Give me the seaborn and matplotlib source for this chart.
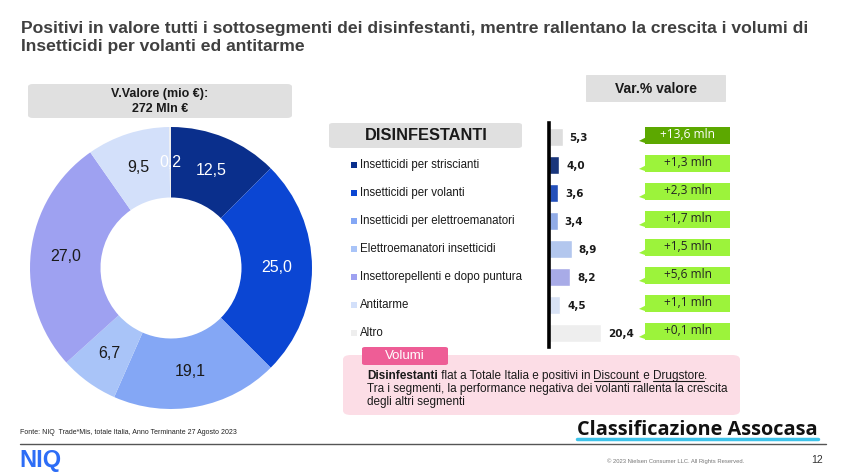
import matplotlib
matplotlib.use("Agg")
import matplotlib.pyplot as plt
import seaborn as sns
from matplotlib.patches import FancyBboxPatch, Polygon, Rectangle
from matplotlib.lines import Line2D
import matplotlib.transforms as mtransforms
import numpy as np

# ---------------- data ----------------
title_lines = ["Positivi in valore tutti i sottosegmenti dei disinfestanti, mentre rallentano la crescita i volumi di",
               "Insetticidi per volanti ed antitarme"]
segments = ["Insetticidi per striscianti", "Insetticidi per volanti", "Insetticidi per elettroemanatori",
            "Elettroemanatori insetticidi", "Insettorepellenti e dopo puntura", "Antitarme", "Altro"]
share_values = [12.5, 25.0, 19.1, 6.7, 27.0, 9.5, 0.2]
segment_colors = ["#0a2f8c", "#0b46d3", "#84a7f5", "#a9c4f8", "#9ea1f1", "#d3e0fa", "#eeeeee"]
share_label_colors = ["white", "white", "#1a1a1a", "#1a1a1a", "#1a1a1a", "#1a1a1a", "white"]
total_label = "DISINFESTANTI"
total_color = "#dddddd"
var_categories = [total_label] + segments
var_values = [5.3, 4.0, 3.6, 3.4, 8.9, 8.2, 4.5, 20.4]
delta_labels = ["+13,6 mln", "+1,3 mln", "+2,3 mln", "+1,7 mln", "+1,5 mln", "+5,6 mln", "+1,1 mln", "+0,1 mln"]
donut_header = ["V.Valore (mio €):", "272 Mln €"]
var_header = "Var.% valore"
note_tab = "Volumi"
source_text = "Fonte: NIQ  Trade*Mis, totale Italia, Anno Terminante 27 Agosto 2023"
class_text = "Classificazione Assocasa"
copyright_text = "© 2023 Nielsen Consumer LLC. All Rights Reserved."
page_number = "12"

W, H = 845, 475
def fx(px): return px / W
def fy(py): return 1 - py / H

sns.set_theme(style="white")
plt.rcParams['font.family'] = ['Liberation Sans', 'DejaVu Sans']

fig = plt.figure(figsize=(W / 100, H / 100), dpi=100)
fig.patch.set_facecolor("white")

def fmt(v):
    return f"{v:.1f}".replace(".", ",")

# ---------------- title ----------------
fig.text(fx(21), fy(28), title_lines[0], fontsize=12.6, fontweight="bold", color="#404040", va="center", ha="left")
fig.text(fx(21), fy(47), title_lines[1], fontsize=12.6, fontweight="bold", color="#404040", va="center", ha="left")

# ---------------- header boxes ----------------
def rbox(x0, y0, x1, y1, color, pad=3):
    p = FancyBboxPatch((fx(x0), fy(y1)), fx(x1) - fx(x0), fy(y0) - fy(y1),
                       boxstyle=f"round,pad=0,rounding_size={pad / W}", transform=fig.transFigure,
                       facecolor=color, edgecolor="none", zorder=0)
    fig.patches.append(p)

rbox(28, 84, 292, 118, "#e0e0e0", 5)
fig.text(fx(160), fy(94), donut_header[0], fontsize=9, fontweight="bold", ha="center", va="center", color="#1a1a1a")
fig.text(fx(160), fy(109), donut_header[1], fontsize=9, fontweight="bold", ha="center", va="center", color="#1a1a1a")

rbox(586, 75, 726, 102, "#e0e0e0", 1)
fig.text(fx(656), fy(89), var_header, fontsize=10, fontweight="bold", ha="center", va="center", color="#1a1a1a")

rbox(329, 123, 522, 148, "#e0e0e0", 4)
fig.text(fx(426), fy(136), total_label, fontsize=11.8, fontweight="bold", ha="center", va="center", color="#1a1a1a")

# ---------------- donut ----------------
ax_d = fig.add_axes([fx(30), fy(409), 282 / W, 282 / H])
wedges, _ = ax_d.pie(share_values, colors=segment_colors, startangle=90, counterclock=False,
                     radius=1, wedgeprops=dict(width=0.5, edgecolor="none"))
for w, v, c in zip(wedges, share_values, share_label_colors):
    ang = np.deg2rad((w.theta1 + w.theta2) / 2)
    r = 0.75
    ax_d.text(r * np.cos(ang), r * np.sin(ang), fmt(v), ha="center", va="center", fontsize=11.5, color=c)
ax_d.set_xlim(-1, 1)
ax_d.set_ylim(-1, 1)
ax_d.set_aspect("equal")
ax_d.axis("off")

# ---------------- bars ----------------
px_per_unit = 2.55
ax_b = fig.add_axes([fx(549), fy(347), 80 / W, 224 / H])
sns.barplot(x=var_values, y=var_categories, hue=var_categories, palette=[total_color] + segment_colors,
            legend=False, orient="h", width=0.62, ax=ax_b)
ax_b.set_xlim(0, 80 / px_per_unit)
ax_b.set_ylim(7.5, -0.5)
for s in ["top", "right", "bottom"]:
    ax_b.spines[s].set_visible(False)
ax_b.spines["left"].set_color("black")
ax_b.spines["left"].set_linewidth(2.6)
ax_b.set_xticks([])
ax_b.set_yticks([])
ax_b.set_xlabel("")
ax_b.set_ylabel("")
ax_b.patch.set_alpha(0)

for i, v in enumerate(var_values):
    ax_b.text(v + 2.8, i + 0.05, fmt(v), ha="left", va="center", fontsize=7.5, fontweight="bold",
              color="#1a1a1a", family=["DejaVu Sans"], clip_on=False)

blend = mtransforms.blended_transform_factory(fig.transFigure, ax_b.transData)
for i, lab in enumerate(delta_labels):
    c = i - 0.06
    fc = "#5ca800" if i == 0 else "#9cf33b"
    tc = "white" if i == 0 else "#222222"
    ax_b.add_patch(Rectangle((fx(645), c - 0.3), fx(730) - fx(645), 0.6, transform=blend,
                             facecolor=fc, edgecolor="none", clip_on=False))
    ax_b.add_patch(Polygon([(fx(645.5), c + 0.08), (fx(645.5), c + 0.28), (fx(639), c + 0.2)], closed=True,
                           transform=blend, facecolor=fc, edgecolor="none", clip_on=False))
    ax_b.text(fx(688), c - 0.02, lab, transform=blend, ha="center", va="center", fontsize=8.6,
              color=tc, family=["Open Sans", "DejaVu Sans"], clip_on=False)

for i, (lab, col) in enumerate(zip(segments, segment_colors), start=1):
    ax_b.add_patch(Rectangle((fx(351), i - 0.12), fx(357) - fx(351), 0.24, transform=blend,
                             facecolor=col, edgecolor="none", clip_on=False))
    ax_b.text(fx(360), i, lab, transform=blend, ha="left", va="center", fontsize=8.3,
              color="#1a1a1a", clip_on=False)

# ---------------- note box ----------------
rbox(343, 355, 740, 415, "#fcdde6", 8)
rbox(362, 347, 448, 365, "#ee5d96", 3)
fig.text(fx(405), fy(356), note_tab, fontsize=9.5, ha="center", va="center", color="white")

renderer = fig.canvas.get_renderer()
def runs(y, parts):
    x = fx(367)
    for txt, bold, under in parts:
        t = fig.text(x, fy(y), txt, fontsize=8.5, fontweight="bold" if bold else "normal",
                     ha="left", va="baseline", color="#1a1a1a")
        bb = t.get_window_extent(renderer=renderer)
        x1 = x + bb.width / W
        if under:
            fig.lines.append(Line2D([x, x1], [fy(y + 2), fy(y + 2)], transform=fig.transFigure,
                                    color="#1a1a1a", linewidth=0.8))
        x = x1

runs(379, [("Disinfestanti", True, False), (" flat a Totale Italia e positivi in ", False, False),
           ("Discount", False, True), (" e ", False, False), ("Drugstore", False, True), (".", False, False)])
runs(392, [("Tra i segmenti, la performance negativa dei volanti rallenta la crescita", False, False)])
runs(405, [("degli altri segmenti", False, False)])

# ---------------- footer ----------------
fig.text(fx(20), fy(432), source_text, fontsize=5, ha="left", va="center", color="#222222")
ct = fig.text(fx(818), fy(435), class_text, fontsize=14.3, fontweight="bold", ha="right", va="baseline",
              color="#111111", family=["Open Sans", "DejaVu Sans"])
bb = ct.get_window_extent(renderer=renderer)
fig.lines.append(Line2D([bb.x0 / W, bb.x1 / W], [fy(438.5), fy(438.5)], transform=fig.transFigure,
                        color="#3ec3ea", linewidth=2.5))
fig.lines.append(Line2D([fx(20), fx(826)], [fy(444), fy(444)], transform=fig.transFigure,
                        color="#555555", linewidth=1))
fig.text(fx(19), fy(461), "NIQ", fontsize=17, fontweight="bold", ha="left", va="center", color="#2d6df6")
fig.text(fx(676), fy(461), copyright_text, fontsize=4.2, ha="center", va="center", color="#777777")
fig.text(fx(823), fy(460), page_number, fontsize=7.5, ha="right", va="center", color="#333333")

fig.savefig("out.png", dpi=100, facecolor="white")
